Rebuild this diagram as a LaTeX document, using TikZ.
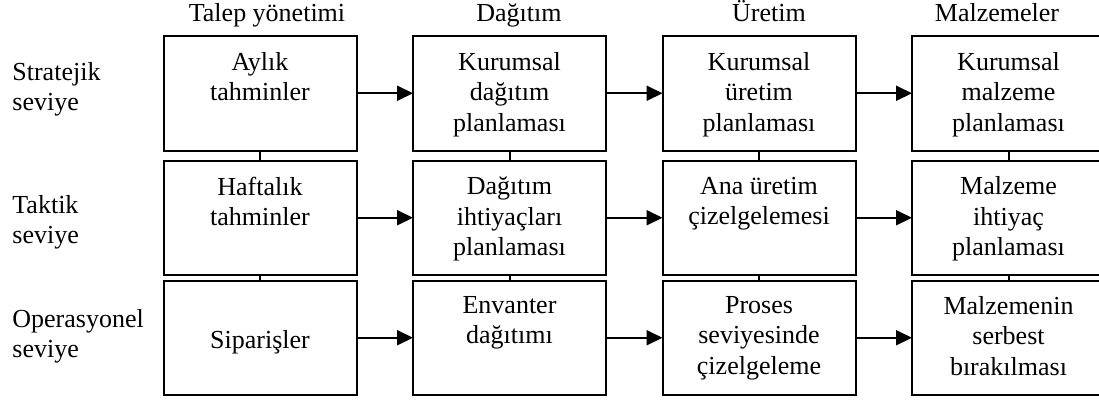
\documentclass[tikz,border=0pt]{standalone}
\usepackage{fontspec}
\setmainfont{Liberation Serif}
\usetikzlibrary{arrows.meta}
\begin{document}
\begin{tikzpicture}[x=0.5pt,y=-0.5pt,
  font=\fontsize{13}{15.25}\selectfont,
  stepbox/.style={draw, line width=1pt, minimum width=96.5pt, minimum height=57.25pt,
                  inner sep=0pt, outer sep=0pt},
  boxtext/.style={anchor=north, align=center, inner sep=0pt,
                  execute at begin node={\rule{0pt}{11pt}}},
  head/.style={anchor=base, inner sep=0pt},
  level/.style={anchor=north west, align=left, inner sep=0pt,
                execute at begin node={\rule{0pt}{11pt}}},
  flow/.style={line width=1pt, -{Triangle[length=8pt,width=7.5pt]}},
  link/.style={line width=1pt}]
\useasboundingbox (0,0) rectangle (1099,402);

% column headings
\node[head] (h1) at (267,21)  {Talep yönetimi};
\node[head] (h2) at (519,21)  {Dağıtım};
\node[head] (h3) at (769,21)  {Üretim};
\node[head] (h4) at (997,21)  {Malzemeler};

% planning levels
\node[level] (l1) at (12,62)  {Stratejik\\seviye};
\node[level] (l2) at (12,195) {Taktik\\seviye};
\node[level] (l3) at (12,309) {Operasyonel\\seviye};

% boxes: row r, column c
\foreach \c/\x in {1/260,2/509.5,3/759,4/1008.5}{
  \node[stepbox] (b1\c) at (\x,93.25)  {};
  \node[stepbox] (b2\c) at (\x,217.75) {};
  \node[stepbox] (b3\c) at (\x,337.75) {};
}

% box texts
\node[boxtext] (t11) at (260,52)    {Aylık\\tahminler};
\node[boxtext] (t12) at (509.5,52)  {Kurumsal\\dağıtım\\planlaması};
\node[boxtext] (t13) at (759,52)    {Kurumsal\\üretim\\planlaması};
\node[boxtext] (t14) at (1008.5,52) {Kurumsal\\malzeme\\planlaması};

\node[boxtext] (t21) at (260,176.5)    {Haftalık\\tahminler};
\node[boxtext] (t22) at (509.5,176.5)  {Dağıtım\\ihtiyaçları\\planlaması};
\node[boxtext] (t23) at (759,176.5)    {Ana üretim\\çizelgelemesi};
\node[boxtext] (t24) at (1008.5,176.5) {Malzeme\\ihtiyaç\\planlaması};

\node[boxtext] (t31) at (260,326.5)    {Siparişler};
\node[boxtext] (t32) at (509.5,296)    {Envanter\\dağıtımı};
\node[boxtext] (t33) at (759,296)      {Proses\\seviyesinde\\çizelgeleme};
\node[boxtext] (t34) at (1008.5,296)   {Malzemenin\\serbest\\bırakılması};

% horizontal flows
\foreach \r in {1,2,3}{
  \draw[flow] (b\r1.east) -- (b\r2.west);
  \draw[flow] (b\r2.east) -- (b\r3.west);
  \draw[flow] (b\r3.east) -- (b\r4.west);
}

% vertical links between levels
\foreach \c in {1,2,3,4}{
  \draw[link] (b1\c.south) -- (b2\c.north);
  \draw[link] (b2\c.south) -- (b3\c.north);
}
\end{tikzpicture}
\end{document}
